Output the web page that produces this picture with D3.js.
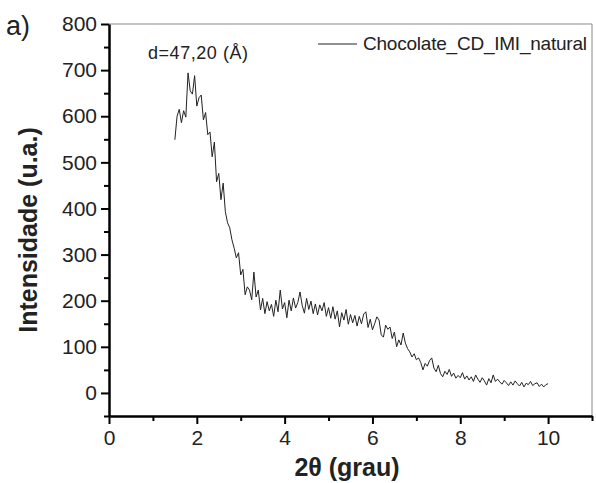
<!DOCTYPE html>
<html>
<head>
<meta charset="utf-8">
<script src="https://cdn.jsdelivr.net/npm/d3@7"></script>
<style>
  body { margin: 0; background: #fff; }
  svg { display: block; }
</style>
</head>
<body>
<div id="chart"></div>
<script>
// Data (2theta in degrees, intensity in a.u.)
const twoTheta = [
  1.50, 1.55, 1.60, 1.65, 1.70, 1.75, 1.80, 1.85, 1.90, 1.95,
  2.00, 2.05, 2.10, 2.15, 2.20, 2.25, 2.30, 2.35, 2.40, 2.45,
  2.50, 2.55, 2.60, 2.65, 2.70, 2.75, 2.80, 2.85, 2.90, 2.95,
  3.00, 3.05, 3.10, 3.15, 3.20, 3.25, 3.30, 3.35, 3.40, 3.45,
  3.50, 3.55, 3.60, 3.65, 3.70, 3.75, 3.80, 3.85, 3.90, 3.95,
  4.00, 4.05, 4.10, 4.15, 4.20, 4.25, 4.30, 4.35, 4.40, 4.45,
  4.50, 4.55, 4.60, 4.65, 4.70, 4.75, 4.80, 4.85, 4.90, 4.95,
  5.00, 5.05, 5.10, 5.15, 5.20, 5.25, 5.30, 5.35, 5.40, 5.45,
  5.50, 5.55, 5.60, 5.65, 5.70, 5.75, 5.80, 5.85, 5.90, 5.95,
  6.00, 6.05, 6.10, 6.15, 6.20, 6.25, 6.30, 6.35, 6.40, 6.45,
  6.50, 6.55, 6.60, 6.65, 6.70, 6.75, 6.80, 6.85, 6.90, 6.95,
  7.00, 7.05, 7.10, 7.15, 7.20, 7.25, 7.30, 7.35, 7.40, 7.45,
  7.50, 7.55, 7.60, 7.65, 7.70, 7.75, 7.80, 7.85, 7.90, 7.95,
  8.00, 8.05, 8.10, 8.15, 8.20, 8.25, 8.30, 8.35, 8.40, 8.45,
  8.50, 8.55, 8.60, 8.65, 8.70, 8.75, 8.80, 8.85, 8.90, 8.95,
  9.00, 9.05, 9.10, 9.15, 9.20, 9.25, 9.30, 9.35, 9.40, 9.45,
  9.50, 9.55, 9.60, 9.65, 9.70, 9.75, 9.80, 9.85, 9.90, 9.95,
  10.00
];
const intensity = [
  549, 600, 615, 586, 612, 598, 694, 655, 648, 688,
  622, 640, 646, 592, 608, 560, 566, 512, 544, 458,
  476, 419, 455, 393, 369, 358, 332, 314, 293, 304,
  256, 268, 213, 230, 223, 202, 262, 208, 223, 180,
  205, 172, 198, 178, 192, 166, 201, 176, 223, 182,
  196, 163, 201, 178, 206, 184, 196, 219, 190, 173,
  205, 181, 199, 172, 193, 169, 191, 178, 196, 166,
  185, 162, 187, 160, 178, 143, 174, 158, 181, 149,
  170, 152, 168, 145, 166, 150, 171, 176, 142, 160,
  137, 150, 165, 158, 126, 121, 147, 138, 143, 118,
  132, 100, 115, 104, 130, 108, 96, 89, 78, 85,
  72, 76, 66, 50, 64, 58, 70, 76, 54, 46,
  60, 42, 35, 47, 40, 51, 36, 43, 32, 38,
  33, 44, 30, 37, 28, 35, 25, 39, 30, 23,
  33, 26, 17, 31, 22, 39, 25, 30, 24, 19,
  27, 22, 16, 24, 17, 26, 20, 15, 23, 13,
  21, 18, 25, 16, 20, 22, 14, 19, 13, 18,
  20
];
const xTicks = [0, 2, 4, 6, 8, 10];
const xMinorTicks = [1, 3, 5, 7, 9, 11];
const yTicks = [0, 100, 200, 300, 400, 500, 600, 700, 800];
const yMinorTicks = [-50, 50, 150, 250, 350, 450, 550, 650, 750];
const seriesName = "Chocolate_CD_IMI_natural";
const annotation = "d=47,20 (Å)";

const W = 596, H = 483;
const margin = {top: 24, right: 4, bottom: 67, left: 109};
const width = W - margin.left - margin.right;
const height = H - margin.top - margin.bottom;

const svg = d3.select("#chart").append("svg")
  .attr("width", W)
  .attr("height", H);

const g = svg.append("g")
  .attr("transform", `translate(${margin.left},${margin.top})`);

const x = d3.scaleLinear().domain([0, 11]).range([0, width]);
const y = d3.scaleLinear().domain([-50, 800]).range([height, 0]);

// thin frame on top and right
g.append("line")
  .attr("x1", 0).attr("x2", width).attr("y1", 0).attr("y2", 0)
  .attr("stroke", "#8a8a8a").attr("stroke-width", 1);
g.append("line")
  .attr("x1", width).attr("x2", width).attr("y1", 0).attr("y2", height)
  .attr("stroke", "#8a8a8a").attr("stroke-width", 1);

// the data line
const data = twoTheta.map((t, i) => ({t: t, v: intensity[i]}));
g.append("path")
  .datum(data)
  .attr("fill", "none")
  .attr("stroke", "#222")
  .attr("stroke-width", 1)
  .attr("d", d3.line().x(d => x(d.t)).y(d => y(d.v)));

// minor ticks
g.append("g")
  .attr("transform", `translate(0,${height})`)
  .call(d3.axisBottom(x).tickValues(xMinorTicks).tickSize(5).tickFormat(""))
  .call(a => a.select(".domain").remove())
  .selectAll("line").attr("stroke-width", 2);
g.append("g")
  .call(d3.axisLeft(y).tickValues(yMinorTicks).tickSize(5).tickFormat(""))
  .call(a => a.select(".domain").remove())
  .selectAll("line").attr("stroke-width", 2);

// main axes
const xAxis = g.append("g")
  .attr("transform", `translate(0,${height})`)
  .call(d3.axisBottom(x).tickValues(xTicks).tickSize(8).tickSizeOuter(0).tickPadding(6));
xAxis.select(".domain").attr("stroke-width", 2.5);
xAxis.selectAll(".tick line").attr("stroke-width", 2);
xAxis.selectAll(".tick text")
  .attr("font-family", "Liberation Sans, Arial, sans-serif")
  .attr("font-size", 21)
  .attr("fill", "#222");

const yAxis = g.append("g")
  .call(d3.axisLeft(y).tickValues(yTicks).tickSize(8).tickSizeOuter(0).tickPadding(4));
yAxis.select(".domain").attr("stroke-width", 2.5);
yAxis.selectAll(".tick line").attr("stroke-width", 2);
yAxis.selectAll(".tick text")
  .attr("font-family", "Liberation Sans, Arial, sans-serif")
  .attr("font-size", 21)
  .attr("fill", "#222");

// axis titles
svg.append("text")
  .attr("x", 347)
  .attr("y", 476)
  .attr("text-anchor", "middle")
  .attr("font-family", "Liberation Sans, Arial, sans-serif")
  .attr("font-weight", "bold")
  .attr("font-size", 25)
  .attr("fill", "#222")
  .text("2θ (grau)");

svg.append("text")
  .attr("transform", `translate(37,230) rotate(-90)`)
  .attr("text-anchor", "middle")
  .attr("font-family", "Liberation Sans, Arial, sans-serif")
  .attr("font-weight", "bold")
  .attr("font-size", 25)
  .attr("fill", "#222")
  .text("Intensidade (u.a.)");

// panel label
svg.append("text")
  .attr("x", 6)
  .attr("y", 35)
  .attr("font-family", "Liberation Sans, Arial, sans-serif")
  .attr("font-size", 27)
  .attr("fill", "#222")
  .text("a)");

// peak annotation
svg.append("text")
  .attr("x", 148)
  .attr("y", 59)
  .attr("textLength", 100)
  .attr("font-family", "Liberation Sans, Arial, sans-serif")
  .attr("font-size", 18)
  .attr("fill", "#222")
  .text(annotation);

// legend
svg.append("line")
  .attr("x1", 318).attr("x2", 357).attr("y1", 44).attr("y2", 44)
  .attr("stroke", "#222").attr("stroke-width", 1);
svg.append("text")
  .attr("x", 363)
  .attr("y", 50)
  .attr("textLength", 224)
  .attr("font-family", "Liberation Sans, Arial, sans-serif")
  .attr("font-size", 19)
  .attr("fill", "#222")
  .text(seriesName);
</script>
</body>
</html>
